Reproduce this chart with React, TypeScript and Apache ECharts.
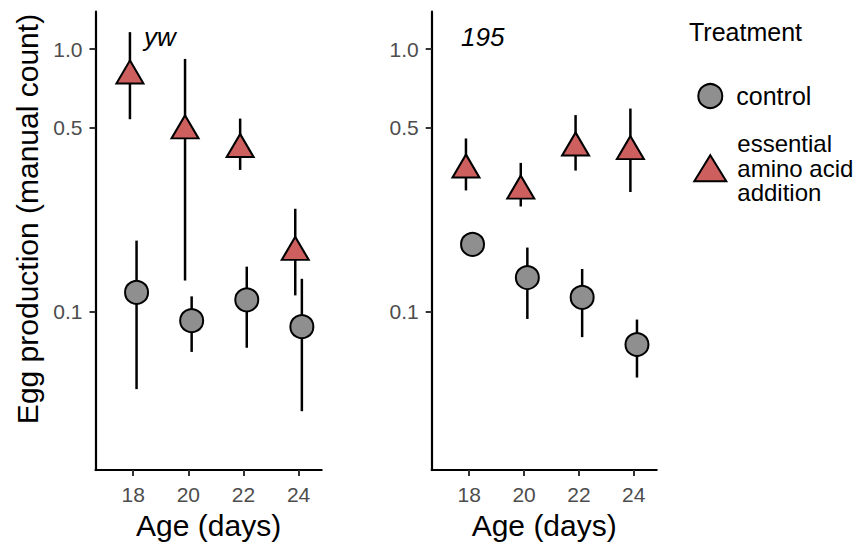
import React, { useEffect, useRef } from "react";
import * as echarts from "echarts";

// ---- data ----
const days = [18, 20, 22, 24];
const panels = ["yw", "195"];

const ywControlMean = [0.118, 0.0921, 0.1106, 0.0874];
const ywControlLo = [0.0505, 0.07, 0.0726, 0.0416];
const ywControlHi = [0.186, 0.114, 0.148, 0.133];

const ywEaaMean = [0.847, 0.523, 0.444, 0.18];
const ywEaaLo = [0.54, 0.131, 0.346, 0.115];
const ywEaaHi = [1.16, 0.917, 0.543, 0.246];

const p195ControlMean = [0.18, 0.1345, 0.113, 0.0747];
const p195ControlLo = [0.172, 0.0935, 0.0797, 0.0559];
const p195ControlHi = [0.188, 0.175, 0.145, 0.093];

const p195EaaMean = [0.371, 0.308, 0.45, 0.436];
const p195EaaLo = [0.289, 0.251, 0.344, 0.285];
const p195EaaHi = [0.456, 0.368, 0.56, 0.593];

const yTickValues = [0.1, 0.5, 1.0];
const xTickValues = [18, 20, 22, 24];
const yMin = 0.0248;
const yMax = 1.388;
const xMin = 16.63;
const xMax = 24.84;
const dodge = 0.12;

const CONTROL = "control";
const EAA = "essential\namino acid\naddition";
const Y_TITLE = "Egg production (manual count)";
const X_TITLE = "Age (days)";
const LEGEND_TITLE = "Treatment";

const FONT = "'Liberation Sans', Arial, Helvetica, sans-serif";

const lg = (v: number) => Math.log10(v);

function buildOption() {
  const panelData = [
    { cm: ywControlMean, cl: ywControlLo, ch: ywControlHi, em: ywEaaMean, el: ywEaaLo, eh: ywEaaHi },
    { cm: p195ControlMean, cl: p195ControlLo, ch: p195ControlHi, em: p195EaaMean, el: p195EaaLo, eh: p195EaaHi },
  ];
  const grids = [
    { left: 95.5, top: 11.7, width: 226.2, height: 461.3 },
    { left: 431.7, top: 11.7, width: 225, height: 461.3 },
  ];

  const xAxes = grids.map((_, i) => ({
    type: "value",
    gridIndex: i,
    min: xMin,
    max: xMax,
    name: X_TITLE,
    nameLocation: "middle",
    nameGap: 33,
    nameTextStyle: { fontSize: 30, color: "#000", fontFamily: FONT },
    axisLine: { show: true, onZero: false, lineStyle: { color: "#000", width: 2.2 } },
    axisTick: { show: true, customValues: xTickValues, length: 6, lineStyle: { color: "#333", width: 2 } },
    axisLabel: { customValues: xTickValues, margin: 14, fontSize: 21, color: "#4d4d4d", fontFamily: FONT },
    splitLine: { show: false },
  }));

  const yAxes = grids.map((_, i) => ({
    type: "value",
    gridIndex: i,
    min: lg(yMin),
    max: lg(yMax),
    axisLine: { show: true, onZero: false, lineStyle: { color: "#000", width: 2.2 } },
    axisTick: { show: true, customValues: yTickValues.map(lg), length: 6, lineStyle: { color: "#333", width: 2 } },
    axisLabel: {
      customValues: yTickValues.map(lg),
      margin: 13,
      fontSize: 21,
      color: "#4d4d4d",
      fontFamily: FONT,
      formatter: (v: number) => Math.pow(10, v).toFixed(1),
    },
    splitLine: { show: false },
  }));

  const errRender = (params: any, api: any) => {
    const x = api.value(0);
    const p1 = api.coord([x, api.value(1)]);
    const p2 = api.coord([x, api.value(2)]);
    return {
      type: "line",
      shape: { x1: p1[0], y1: p1[1], x2: p2[0], y2: p2[1] },
      style: { stroke: "#000", lineWidth: 2.5 },
    };
  };

  const series: any[] = [];
  panelData.forEach((p, i) => {
    series.push({
      type: "custom",
      name: "err-control-" + panels[i],
      xAxisIndex: i,
      yAxisIndex: i,
      renderItem: errRender,
      encode: { x: 0, y: [1, 2] },
      data: days.map((d, k) => [d + dodge, lg(p.cl[k]), lg(p.ch[k])]),
      z: 2,
      silent: true,
    });
    series.push({
      type: "custom",
      name: "err-eaa-" + panels[i],
      xAxisIndex: i,
      yAxisIndex: i,
      renderItem: errRender,
      encode: { x: 0, y: [1, 2] },
      data: days.map((d, k) => [d - dodge, lg(p.el[k]), lg(p.eh[k])]),
      z: 2,
      silent: true,
    });
    series.push({
      type: "scatter",
      name: CONTROL,
      xAxisIndex: i,
      yAxisIndex: i,
      symbol: "circle",
      symbolSize: 23,
      itemStyle: { color: "#8f8f8f", borderColor: "#000", borderWidth: 2, opacity: 1 },
      data: days.map((d, k) => [d + dodge, lg(p.cm[k])]),
      z: 5,
    });
    series.push({
      type: "scatter",
      name: EAA,
      xAxisIndex: i,
      yAxisIndex: i,
      symbol: "triangle",
      symbolSize: [27, 23],
      symbolOffset: [0, 4],
      itemStyle: { color: "#cd5f5f", borderColor: "#000", borderWidth: 2, opacity: 1 },
      data: days.map((d, k) => [d - dodge, lg(p.em[k])]),
      z: 5,
    });
  });

  return {
    animation: false,
    backgroundColor: "#fff",
    textStyle: { fontFamily: FONT },
    grid: grids,
    xAxis: xAxes,
    yAxis: yAxes,
    series,
    legend: [
      {
        orient: "vertical",
        left: 697.3,
        top: 83,
        padding: 0,
        itemWidth: 24,
        itemHeight: 24,
        selectedMode: false,
        data: [{ name: CONTROL, icon: "circle" }],
        itemStyle: { color: "#8f8f8f", borderColor: "#000", borderWidth: 2 },
        textStyle: { fontSize: 25, color: "#000", fontFamily: FONT, padding: [0, 0, 0, 9] },
      },
      {
        orient: "vertical",
        left: 693.3,
        top: 131.5,
        padding: 0,
        itemWidth: 32,
        itemHeight: 26,
        selectedMode: false,
        data: [{ name: EAA, icon: "triangle" }],
        itemStyle: { color: "#cd5f5f", borderColor: "#000", borderWidth: 2 },
        textStyle: { fontSize: 24, lineHeight: 24.5, color: "#000", fontFamily: FONT, padding: [0, 0, 0, 6] },
      },
    ],
    graphic: [
      {
        type: "text",
        x: 27.5,
        y: 219,
        rotation: Math.PI / 2,
        style: {
          text: Y_TITLE,
          fontSize: 30,
          fill: "#000",
          fontFamily: FONT,
          align: "center",
          verticalAlign: "middle",
        },
      },
      {
        type: "text",
        x: 689,
        y: 31.7,
        style: { text: LEGEND_TITLE, fontSize: 25, fill: "#000", fontFamily: FONT, verticalAlign: "middle" },
      },
      {
        type: "text",
        x: 144,
        y: 37,
        style: { text: panels[0], fontSize: 26, fontStyle: "italic", fill: "#000", fontFamily: FONT, verticalAlign: "middle" },
      },
      {
        type: "text",
        x: 461,
        y: 37,
        style: { text: panels[1], fontSize: 26, fontStyle: "italic", fill: "#000", fontFamily: FONT, verticalAlign: "middle" },
      },
    ],
  };
}

export default function App() {
  const ref = useRef<HTMLDivElement>(null);
  useEffect(() => {
    if (!ref.current) return;
    const chart = echarts.init(ref.current, undefined, { renderer: "svg" });
    chart.setOption(buildOption() as any);
    return () => chart.dispose();
  }, []);
  return (
    <div
      ref={ref}
      style={{ position: "fixed", left: 0, top: 0, width: 868, height: 545, background: "#fff" }}
    />
  );
}
